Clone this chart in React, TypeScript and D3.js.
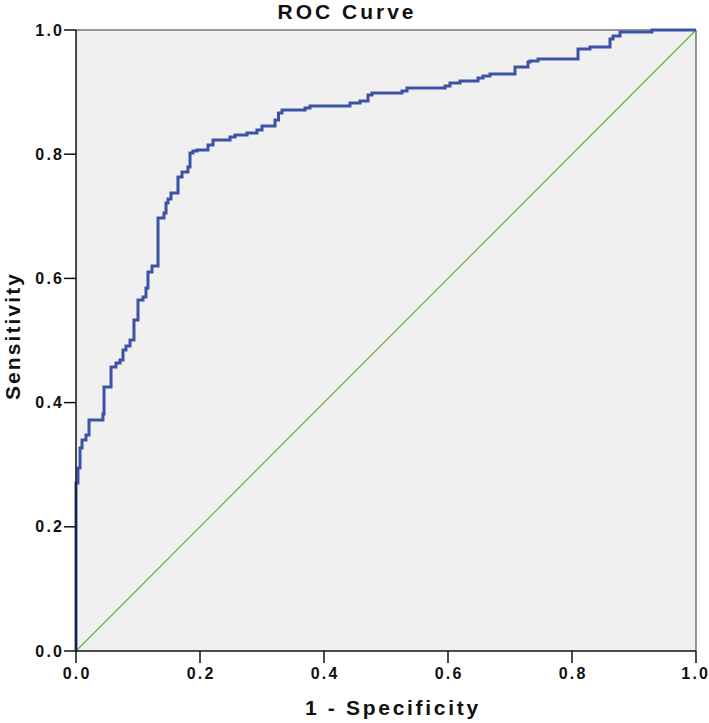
import React from "react";
import * as d3 from "d3";

// ROC curve vertices: fpr where the rise happens, tpr level after the rise
const fpr = [
  0, 0, 0.0032, 0.0065, 0.0097, 0.0161, 0.021, 0.0435, 0.0452, 0.0565, 0.0645,
  0.071, 0.0758, 0.0806, 0.0871, 0.0935, 0.1, 0.1081, 0.1129, 0.1161, 0.1226,
  0.1323, 0.1419, 0.1452, 0.1484, 0.1532, 0.1645, 0.171, 0.1806, 0.1839,
  0.1887, 0.1952, 0.2129, 0.221, 0.2484, 0.2565, 0.2758, 0.2919, 0.3, 0.321,
  0.3266, 0.3323, 0.3694, 0.3774, 0.4419, 0.4581, 0.471, 0.4774, 0.5258,
  0.5339, 0.5952, 0.6032, 0.6194, 0.6484, 0.6565, 0.6677, 0.7081, 0.729,
  0.7323, 0.7452, 0.8097, 0.829, 0.8613, 0.8661, 0.8774, 0.929, 1,
];
const tpr = [
  0, 0.2705, 0.2947, 0.3269, 0.3398, 0.3478, 0.372, 0.3816, 0.4251, 0.4573,
  0.4638, 0.4686, 0.4847, 0.4911, 0.5008, 0.533, 0.5652, 0.57, 0.5845, 0.6103,
  0.62, 0.6973, 0.7053, 0.7214, 0.7279, 0.7375, 0.7633, 0.7713, 0.7794,
  0.8019, 0.8052, 0.8068, 0.8148, 0.8229, 0.8277, 0.8309, 0.8341, 0.839,
  0.8454, 0.8551, 0.8663, 0.8712, 0.8744, 0.8776, 0.8824, 0.8857, 0.8953,
  0.8986, 0.9018, 0.9066, 0.9098, 0.9147, 0.9179, 0.9227, 0.9259, 0.9291,
  0.9404, 0.9485, 0.9501, 0.9533, 0.9694, 0.9726, 0.9855, 0.9903, 0.9968, 1,
  1,
];
const refLine = [0, 1];
const tickValues = [0, 0.2, 0.4, 0.6, 0.8, 1.0];
const tickLabels = ["0.0", "0.2", "0.4", "0.6", "0.8", "1.0"];
const title = "ROC Curve";
const xTitle = "1 - Specificity";
const yTitle = "Sensitivity";

const W = 709;
const H = 723;
const left = 76;
const right = 696;
const top = 30;
const bottom = 651;
const font = "'Liberation Sans', Arial, sans-serif";

export default function App() {
  const x = d3.scaleLinear().domain([0, 1]).range([left, right]);
  const y = d3.scaleLinear().domain([0, 1]).range([bottom, top]);
  const pts: [number, number][] = fpr.map((f, i) => [f, tpr[i]]);
  const line = d3
    .line<[number, number]>()
    .x((d) => x(d[0]))
    .y((d) => y(d[1]))
    .curve(d3.curveStepAfter);
  const diag = d3
    .line<number>()
    .x((d) => x(d))
    .y((d) => y(d));
  const tickLs = 2.2;
  return (
    <svg
      width={W}
      height={H}
      style={{ position: "absolute", left: 0, top: 0, background: "#fff" }}
      fontFamily={font}
    >
      <rect x={left} y={top} width={right - left} height={bottom - top} fill="#f0f0f0" />
      <line x1={left} x2={right} y1={top} y2={top} stroke="#333" strokeWidth={1} />
      <line x1={right} x2={right} y1={top} y2={bottom} stroke="#333" strokeWidth={1} />
      <path d={diag(refLine) || ""} fill="none" stroke="#66b04a" strokeWidth={1.2} />
      <path d={line(pts) || ""} fill="none" stroke="#3d52a7" strokeWidth={3} strokeLinejoin="miter" />
      <line x1={left} x2={left} y1={top} y2={bottom + 0.5} stroke="#111" strokeWidth={1.5} />
      <line x1={left} x2={right} y1={bottom} y2={bottom} stroke="#111" strokeWidth={1.5} />
      {tickValues.map((v, i) => (
        <g key={"y" + i}>
          <line x1={left - 12} x2={left} y1={y(v)} y2={y(v)} stroke="#111" strokeWidth={1.5} />
          <text
            x={62 + tickLs}
            y={y(v)}
            dy="0.35em"
            textAnchor="end"
            fontSize={16}
            fontWeight="bold"
            letterSpacing={tickLs}
            fill="#111"
          >
            {tickLabels[i]}
          </text>
        </g>
      ))}
      {tickValues.map((v, i) => {
        const last = i === tickValues.length - 1;
        return (
          <g key={"x" + i}>
            <line x1={x(v)} x2={x(v)} y1={bottom} y2={bottom + 12} stroke="#111" strokeWidth={1.5} />
            <text
              x={last ? W - 1 + tickLs : x(v) + tickLs / 2}
              y={679}
              textAnchor={last ? "end" : "middle"}
              fontSize={16}
              fontWeight="bold"
              letterSpacing={tickLs}
              fill="#111"
            >
              {tickLabels[i]}
            </text>
          </g>
        );
      })}
      <text
        x={345.5 + 1.5}
        y={18.5}
        textAnchor="middle"
        fontSize={21}
        fontWeight="bold"
        letterSpacing={3}
        fill="#111"
      >
        {title}
      </text>
      <text
        x={391.5 + 1.35}
        y={715}
        textAnchor="middle"
        fontSize={21}
        fontWeight="bold"
        letterSpacing={2.7}
        fill="#111"
      >
        {xTitle}
      </text>
      <text
        transform={`translate(19.5, ${335 + 1}) rotate(-90)`}
        textAnchor="middle"
        fontSize={21}
        fontWeight="bold"
        letterSpacing={2.1}
        fill="#111"
      >
        {yTitle}
      </text>
    </svg>
  );
}
